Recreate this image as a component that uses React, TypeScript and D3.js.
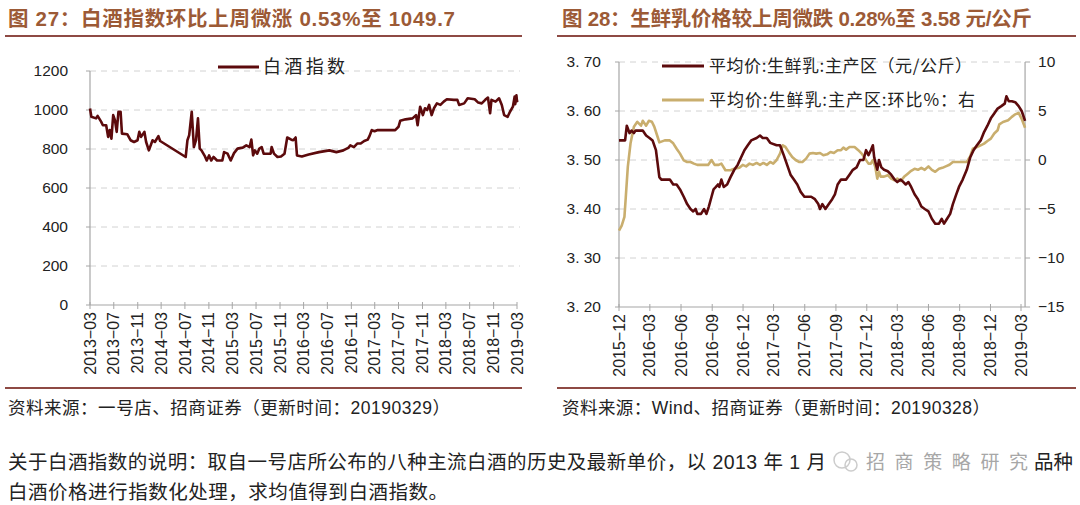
import React from 'react';
import * as d3 from 'd3';

// ---------- Left chart data: 白酒指数 ----------
const baijiuDates = [
  '2013-03-01','2013-03-08','2013-04-01','2013-04-09','2013-04-27','2013-05-06','2013-05-23','2013-06-02','2013-06-10','2013-06-19',
  '2013-06-28','2013-07-07','2013-07-16','2013-07-25','2013-08-05','2013-08-12','2013-09-08','2013-09-25','2013-10-13','2013-10-31',
  '2013-11-09','2013-11-18','2013-12-05','2013-12-14','2013-12-28','2014-01-16','2014-01-28','2014-02-15','2014-02-24','2014-07-05',
  '2014-07-14','2014-07-23','2014-08-05','2014-08-16','2014-08-27','2014-09-06','2014-09-15','2014-09-24','2014-10-12','2014-10-21',
  '2014-11-02','2014-11-13','2014-11-25','2014-12-13','2015-01-09','2015-01-18','2015-02-05','2015-02-21','2015-03-10','2015-03-28',
  '2015-04-24','2015-05-12','2015-05-29','2015-06-07','2015-06-16','2015-06-25','2015-07-07','2015-07-18','2015-07-30','2015-08-09',
  '2015-09-14','2015-09-19','2015-10-01','2015-10-19','2015-11-06','2015-11-24','2015-12-08','2015-12-29','2016-01-08','2016-01-20',
  '2016-01-27','2016-02-21','2016-03-27','2016-05-19','2016-07-11','2016-08-16','2016-09-21','2016-10-18','2016-10-27','2016-11-14',
  '2016-12-01','2016-12-19','2017-01-06','2017-01-24','2017-02-02','2017-02-14','2017-02-28','2017-03-16','2017-06-14','2017-07-01',
  '2017-07-10','2017-08-06','2017-09-11','2017-09-29','2017-10-07','2017-10-20','2017-11-03','2017-11-14','2017-11-25','2017-12-05',
  '2017-12-18','2017-12-30','2018-01-14','2018-02-01','2018-02-18','2018-03-06','2018-04-11','2018-04-29','2018-05-08','2018-06-03',
  '2018-06-21','2018-07-27','2018-08-14','2018-09-01','2018-09-19','2018-10-03','2018-10-14','2018-10-21','2018-11-11','2018-11-29',
  '2018-12-13','2018-12-25','2019-01-12','2019-01-24','2019-02-08','2019-02-17','2019-02-20','2019-02-26','2019-03-01','2019-03-05',
];
const baijiuValues = [
  1008, 965, 957, 970, 940, 922, 922, 862, 897, 853,
  974, 948, 888, 991, 991, 879, 876, 845, 836, 845,
  888, 862, 888, 836, 793, 845, 836, 866, 841, 759,
  845, 871, 991, 810, 845, 957, 802, 793, 762, 741,
  767, 741, 759, 741, 741, 784, 776, 741, 779, 802,
  807, 819, 810, 848, 767, 793, 776, 802, 810, 776,
  776, 810, 776, 759, 762, 776, 859, 848, 845, 859,
  767, 762, 772, 784, 793, 784, 793, 807, 819, 810,
  828, 828, 841, 848, 866, 897, 891, 897, 897, 914,
  945, 952, 957, 974, 922, 1017, 974, 1009, 1000, 1026,
  974, 1009, 1034, 1026, 1043, 1055, 1052, 1052, 1026, 1034,
  1060, 1055, 1038, 1034, 1052, 1064, 983, 1052, 1043, 1060,
  1026, 974, 965, 991, 1017, 1069, 1030, 1075, 1045, 1050,
];
const leftYTicks = [0, 200, 400, 600, 800, 1000, 1200];
const leftXLabels = [
  '2013-03','2013-07','2013-11','2014-03','2014-07','2014-11','2015-03','2015-07','2015-11','2016-03',
  '2016-07','2016-11','2017-03','2017-07','2017-11','2018-03','2018-07','2018-11','2019-03',
];

// ---------- Right chart data: 生鲜乳 ----------
const milkDates = [
  '2015-12-01','2015-12-19','2015-12-24','2016-01-01','2016-01-07','2016-01-14','2016-01-19','2016-02-09','2016-02-19','2016-02-29',
  '2016-03-09','2016-03-19','2016-03-29','2016-04-04','2016-04-29','2016-05-09','2016-05-19','2016-05-29','2016-06-09','2016-06-19',
  '2016-06-29','2016-07-07','2016-07-14','2016-07-19','2016-07-30','2016-08-08','2016-08-15','2016-08-22','2016-08-30','2016-09-05',
  '2016-09-12','2016-09-18','2016-09-22','2016-09-28','2016-10-05','2016-10-15','2016-10-25','2016-11-05','2016-11-15','2016-11-25',
  '2016-12-05','2016-12-15','2016-12-25','2017-01-10','2017-01-20','2017-01-28','2017-02-09','2017-02-19','2017-03-10','2017-03-20',
  '2017-03-31','2017-04-10','2017-04-20','2017-04-30','2017-05-10','2017-05-20','2017-05-31','2017-06-20','2017-07-01','2017-07-11',
  '2017-07-16','2017-07-23','2017-08-01','2017-08-11','2017-08-21','2017-08-29','2017-09-06','2017-09-16','2017-10-01','2017-10-11',
  '2017-10-21','2017-11-01','2017-11-11','2017-11-21','2017-11-29','2017-12-06','2017-12-13','2017-12-19','2017-12-23','2018-01-01',
  '2018-01-06','2018-01-13','2018-01-21','2018-02-01','2018-02-11','2018-02-21','2018-03-01','2018-03-11','2018-03-19','2018-03-26',
  '2018-04-03','2018-04-11','2018-04-21','2018-05-01','2018-05-11','2018-05-21','2018-06-01','2018-06-11','2018-06-21','2018-07-02',
  '2018-07-10','2018-07-17','2018-07-24','2018-08-04','2018-08-12','2018-08-22','2018-08-30','2018-09-10','2018-09-22','2018-10-02',
  '2018-10-12','2018-10-22','2018-11-02','2018-11-12','2018-11-22','2018-12-02','2018-12-12','2018-12-22','2019-01-02','2019-01-12',
  '2019-01-17','2019-01-24','2019-02-02','2019-02-12','2019-02-22','2019-03-03','2019-03-13',
];
const milkPrice = [
  3.54, 3.54, 3.57, 3.555, 3.56, 3.555, 3.56, 3.56, 3.55, 3.545,
  3.54, 3.52, 3.465, 3.46, 3.46, 3.45, 3.45, 3.44, 3.425, 3.41,
  3.40, 3.395, 3.40, 3.39, 3.39, 3.40, 3.39, 3.405, 3.425, 3.44,
  3.445, 3.45, 3.445, 3.46, 3.445, 3.45, 3.465, 3.48, 3.49, 3.505,
  3.52, 3.53, 3.54, 3.545, 3.55, 3.545, 3.545, 3.535, 3.53, 3.53,
  3.51, 3.49, 3.47, 3.46, 3.45, 3.435, 3.425, 3.425, 3.42, 3.41,
  3.40, 3.41, 3.40, 3.41, 3.42, 3.43, 3.45, 3.46, 3.46, 3.47,
  3.48, 3.485, 3.50, 3.50, 3.52, 3.51, 3.52, 3.53, 3.505, 3.48,
  3.50, 3.485, 3.48, 3.477, 3.47, 3.46, 3.455, 3.46, 3.455, 3.45,
  3.455, 3.445, 3.43, 3.42, 3.405, 3.40, 3.395, 3.38, 3.37, 3.37,
  3.38, 3.37, 3.378, 3.39, 3.41, 3.43, 3.445, 3.46, 3.48, 3.505,
  3.52, 3.53, 3.54, 3.557, 3.57, 3.585, 3.595, 3.605, 3.61, 3.615,
  3.63, 3.62, 3.62, 3.618, 3.61, 3.60, 3.58,
];
const momDates = [
  '2015-12-01','2015-12-09','2015-12-17','2015-12-21','2015-12-27','2016-01-04','2016-01-14','2016-01-24','2016-02-04','2016-02-09',
  '2016-02-19','2016-02-27','2016-03-07','2016-03-14','2016-03-24','2016-03-29','2016-04-14','2016-04-29','2016-05-09','2016-05-19',
  '2016-05-29','2016-06-09','2016-06-19','2016-06-29','2016-07-09','2016-07-19','2016-08-10','2016-08-20','2016-08-30','2016-09-08',
  '2016-09-20','2016-09-28','2016-10-10','2016-10-25','2016-11-05','2016-11-20','2016-11-30','2016-12-10','2016-12-20','2016-12-30',
  '2017-01-10','2017-01-20','2017-01-30','2017-02-09','2017-02-19','2017-02-28','2017-03-10','2017-03-20','2017-03-28','2017-04-05',
  '2017-04-15','2017-04-25','2017-05-05','2017-05-15','2017-05-25','2017-06-05','2017-06-15','2017-06-25','2017-07-05','2017-07-16',
  '2017-07-26','2017-08-06','2017-08-16','2017-08-26','2017-09-06','2017-09-16','2017-09-23','2017-10-01','2017-10-11','2017-10-26',
  '2017-11-06','2017-11-16','2017-11-26','2017-12-06','2017-12-13','2017-12-19','2017-12-26','2018-01-01','2018-01-06','2018-01-11',
  '2018-01-21','2018-02-01','2018-02-11','2018-02-21','2018-03-01','2018-03-11','2018-03-21','2018-04-01','2018-04-11','2018-04-21',
  '2018-05-01','2018-05-11','2018-05-21','2018-06-01','2018-06-11','2018-06-21','2018-07-02','2018-07-12','2018-07-22','2018-08-02',
  '2018-08-12','2018-09-02','2018-09-22','2018-10-02','2018-10-10','2018-10-22','2018-11-02','2018-11-12','2018-11-22','2018-12-02',
  '2018-12-12','2018-12-22','2018-12-27','2019-01-07','2019-01-22','2019-02-02','2019-02-12','2019-02-22','2019-03-03','2019-03-13',
];
const momValues = [
  -7.2, -6.7, -5.8, -3.8, -0.7, 1.7, 3.4, 3.9, 3.5, 4.0,
  3.5, 4.0, 3.9, 3.4, 2.35, 1.8, 2.0, 2.0, 1.7, 1.15,
  0.65, -0.03, -0.2, -0.2, -0.37, -0.5, -0.5, -0.5, 0.0, -0.5,
  -0.5, -0.37, -1.05, -1.05, -0.9, -0.8, -0.5, -0.65, -0.37, -0.5,
  -0.3, -0.5, -0.3, -0.5, -0.2, -0.37, 0.0, 0.65, 1.5, 1.33,
  0.8, 0.3, 0.0, -0.2, -0.2, 0.14, 0.65, 0.72, 0.65, 0.72,
  0.48, 0.58, 0.82, 0.72, 1.0, 1.0, 1.26, 1.06, 1.33, 1.33,
  1.0, 0.65, 0.14, -0.37, -0.37, 0.0, -0.7, -1.9, -1.2, -1.7,
  -1.7, -1.55, -1.9, -2.07, -1.9, -2.14, -1.72, -1.4, -1.1, -0.9,
  -1.0, -0.8, -1.0, -0.65, -1.0, -1.2, -0.9, -0.8, -0.65, -0.48,
  -0.2, -0.2, -0.2, 0.37, 1.15, 1.33, 1.5, 1.67, 1.94, 2.18,
  2.7, 3.03, 3.64, 3.88, 4.05, 4.4, 4.66, 4.8, 4.2, 3.3,
];
const rightLeftTicks = [3.2, 3.3, 3.4, 3.5, 3.6, 3.7];
const rightRightTicks = [-15, -10, -5, 0, 5, 10];
const rightXLabels = [
  '2015-12','2016-03','2016-06','2016-09','2016-12','2017-03','2017-06','2017-09','2017-12','2018-03',
  '2018-06','2018-09','2018-12','2019-03',
];

const FONT = "'Liberation Sans', Arial, 'Noto Sans CJK SC', sans-serif";
const CJK = "'Noto Sans CJK SC', 'Liberation Sans', sans-serif";
const TITLE_COLOR = '#9C5A36';
const RULE_COLOR = '#8E4A44';
const AXIS = '#A6A6A6';
const GRID = '#D2D2D2';
const MAROON = '#5C0A0C';
const GOLD = '#C9AE6E';

const pDay = d3.timeParse('%Y-%m-%d');
const pMon = d3.timeParse('%Y-%m');
const fmtLabel = (s: string) => s.replace('-', '\u2212');

export default function App() {
  // left scales
  const xL = d3.scaleTime().domain([pMon('2013-03')!, pMon('2019-03')!]).range([90, 517]);
  const yL = d3.scaleLinear().domain([0, 1200]).range([305, 71]);
  const leftPts = baijiuDates.map((d, i) => [xL(pDay(d)!), yL(baijiuValues[i])] as [number, number]);
  const lineGen = d3.line<[number, number]>().x(d => d[0]).y(d => d[1]);

  // right scales
  const xR = d3.scaleTime().domain([pMon('2015-12')!, pMon('2019-03')!]).range([619, 1021]);
  const yR1 = d3.scaleLinear().domain([3.2, 3.7]).range([307, 62]);
  const yR2 = d3.scaleLinear().domain([-15, 10]).range([307, 62]);
  const milkPts = milkDates.map((d, i) => [xR(pDay(d)!), yR1(milkPrice[i])] as [number, number]);
  const momPts = momDates.map((d, i) => [xR(pDay(d)!), yR2(momValues[i])] as [number, number]);
  const xRend = xR(pDay(milkDates[milkDates.length - 1])!);
  const xLstart = xL.range()[0];
  const xLend = xL.range()[1];
  const xRstart = xR.range()[0];

  return (
    <svg width={1080} height={505} style={{ position: 'absolute', left: 0, top: 0, background: '#fff' }}
      fontFamily={FONT}>
      <rect x={0} y={0} width={1080} height={505} fill="#fff" />
      {/* Titles */}
      <text x={8} y={26} fontSize={20.5} fontWeight="bold" fill={TITLE_COLOR} fontFamily={FONT}
        textLength={447} lengthAdjust="spacing">图 27：白酒指数环比上周微涨 0.53%至 1049.7</text>
      <text x={562} y={26} fontSize={20.5} fontWeight="bold" fill={TITLE_COLOR} fontFamily={FONT}
        textLength={470} lengthAdjust="spacing">图 28：生鲜乳价格较上周微跌 0.28%至 3.58 元/公斤</text>
      <line x1={5} x2={522} y1={36} y2={36} stroke={RULE_COLOR} strokeWidth={2} />
      <line x1={557} x2={1076} y1={36} y2={36} stroke={RULE_COLOR} strokeWidth={2} />

      {/* ---------- Left chart ---------- */}
      {leftYTicks.map(t => (
        <g key={'ly' + t}>
          {t > 0 && <line x1={xLstart} x2={xLend + 3} y1={yL(t)} y2={yL(t)} stroke={GRID} strokeWidth={1} strokeDasharray="6,5" />}
          <line x1={xLstart - 4} x2={xLstart} y1={yL(t)} y2={yL(t)} stroke={AXIS} strokeWidth={1} />
          <text x={68} y={yL(t)} dy="0.35em" textAnchor="end" fontSize={15.5} fill="#222">{t}</text>
        </g>
      ))}
      <line x1={xLstart} x2={xLstart} y1={yL(1200)} y2={yL(0)} stroke={AXIS} strokeWidth={1.2} />
      <line x1={xLstart} x2={xLend} y1={yL(0)} y2={yL(0)} stroke={AXIS} strokeWidth={1.2} />
      {leftXLabels.map(l => {
        const x = xL(pMon(l)!);
        return (
          <g key={'lx' + l}>
            <line x1={x} x2={x} y1={yL(0) - 3} y2={yL(0) + 4} stroke={AXIS} strokeWidth={1} />
            <text transform={`translate(${x},${yL(0) + 7}) rotate(-90)`} dy="0.35em" textAnchor="end" fontSize={16} fill="#222">{fmtLabel(l)}</text>
          </g>
        );
      })}
      <path d={lineGen(leftPts) || ''} fill="none" stroke={MAROON} strokeWidth={2.6} strokeLinejoin="round" />
      {/* legend */}
      <line x1={218} x2={259} y1={67} y2={67} stroke={MAROON} strokeWidth={3} />
      <text x={263} y={67} dy="0.35em" fontSize={18} fill="#222" fontFamily={CJK} textLength={82} lengthAdjust="spacing">白酒指数</text>

      {/* ---------- Right chart ---------- */}
      {rightLeftTicks.map(t => (
        <g key={'ry' + t}>
          {t > 3.2 && <line x1={xRstart} x2={xRend} y1={yR1(t)} y2={yR1(t)} stroke={GRID} strokeWidth={1} strokeDasharray="6,5" />}
          <line x1={xRstart - 4} x2={xRstart} y1={yR1(t)} y2={yR1(t)} stroke={AXIS} strokeWidth={1} />
          <text x={601} y={yR1(t)} dy="0.35em" textAnchor="end" fontSize={15.5} fill="#222">{t.toFixed(2).replace('.', '. ')}</text>
        </g>
      ))}
      {rightRightTicks.map(t => (
        <g key={'rr' + t}>
          <line x1={xRend} x2={xRend + 5} y1={yR2(t)} y2={yR2(t)} stroke={AXIS} strokeWidth={1} />
          <text x={xRend + 13} y={yR2(t)} dy="0.35em" textAnchor="start" fontSize={15.5} fill="#222">{t < 0 ? '\u2212' + Math.abs(t) : String(t)}</text>
        </g>
      ))}
      <line x1={xRstart} x2={xRstart} y1={yR1(3.7)} y2={yR1(3.2)} stroke={AXIS} strokeWidth={1.2} />
      <line x1={xRend} x2={xRend} y1={yR1(3.7)} y2={yR1(3.2)} stroke={AXIS} strokeWidth={1.2} />
      <line x1={xRstart} x2={xRend} y1={yR1(3.2)} y2={yR1(3.2)} stroke={AXIS} strokeWidth={1.2} />
      {rightXLabels.map(l => {
        const x = xR(pMon(l)!);
        return (
          <g key={'rx' + l}>
            <line x1={x} x2={x} y1={yR1(3.2) - 3} y2={yR1(3.2) + 4} stroke={AXIS} strokeWidth={1} />
            <text transform={`translate(${x},${yR1(3.2) + 7}) rotate(-90)`} dy="0.35em" textAnchor="end" fontSize={16} fill="#222">{fmtLabel(l)}</text>
          </g>
        );
      })}
      <path d={lineGen(momPts) || ''} fill="none" stroke={GOLD} strokeWidth={2.6} strokeLinejoin="round" />
      <path d={lineGen(milkPts) || ''} fill="none" stroke={MAROON} strokeWidth={2.6} strokeLinejoin="round" />
      {/* legend */}
      <line x1={662} x2={704} y1={66} y2={66} stroke={MAROON} strokeWidth={3} />
      <text x={709} y={66} dy="0.35em" fontSize={17} fill="#222" fontFamily={CJK} textLength={263} lengthAdjust="spacing">平均价:生鲜乳:主产区（元/公斤）</text>
      <line x1={662} x2={704} y1={100} y2={100} stroke={GOLD} strokeWidth={3} />
      <text x={709} y={100} dy="0.35em" fontSize={17} fill="#222" fontFamily={CJK} textLength={266} lengthAdjust="spacing">平均价:生鲜乳:主产区:环比%：右</text>

      {/* Source lines */}
      <line x1={5} x2={522} y1={388} y2={388} stroke={RULE_COLOR} strokeWidth={2} />
      <line x1={557} x2={1076} y1={388} y2={388} stroke={RULE_COLOR} strokeWidth={2} />
      <text x={8} y={408} dy="0.35em" fontSize={17.5} fill="#222" fontFamily={FONT} textLength={442} lengthAdjust="spacing">资料来源：一号店、招商证券（更新时间：20190329）</text>
      <text x={562} y={408} dy="0.35em" fontSize={17.5} fill="#222" fontFamily={FONT} textLength={428} lengthAdjust="spacing">资料来源：Wind、招商证券（更新时间：20190328）</text>

      {/* Note paragraph */}
      <text x={8} y={462} dy="0.35em" fontSize={19.5} fill="#222" fontFamily={FONT} textLength={818} lengthAdjust="spacing">关于白酒指数的说明：取自一号店所公布的八种主流白酒的历史及最新单价，以 2013 年 1 月</text>
      <text x={1034} y={462} dy="0.35em" fontSize={19.5} fill="#222" fontFamily={FONT}>品种</text>
      <g opacity={0.75}>
        <circle cx={842} cy={460} r={8} fill="none" stroke="#bbb" strokeWidth={1.5} />
        <circle cx={851} cy={465} r={6} fill="none" stroke="#bbb" strokeWidth={1.5} />
        <text x={866} y={462} dy="0.35em" fontSize={19} fill="#8a8a8a" fontFamily={CJK} textLength={162} lengthAdjust="spacing">招商策略研究</text>
      </g>
      <text x={8} y={492} dy="0.35em" fontSize={19.5} fill="#222" fontFamily={FONT} textLength={440} lengthAdjust="spacing">白酒价格进行指数化处理，求均值得到白酒指数。</text>
    </svg>
  );
}
